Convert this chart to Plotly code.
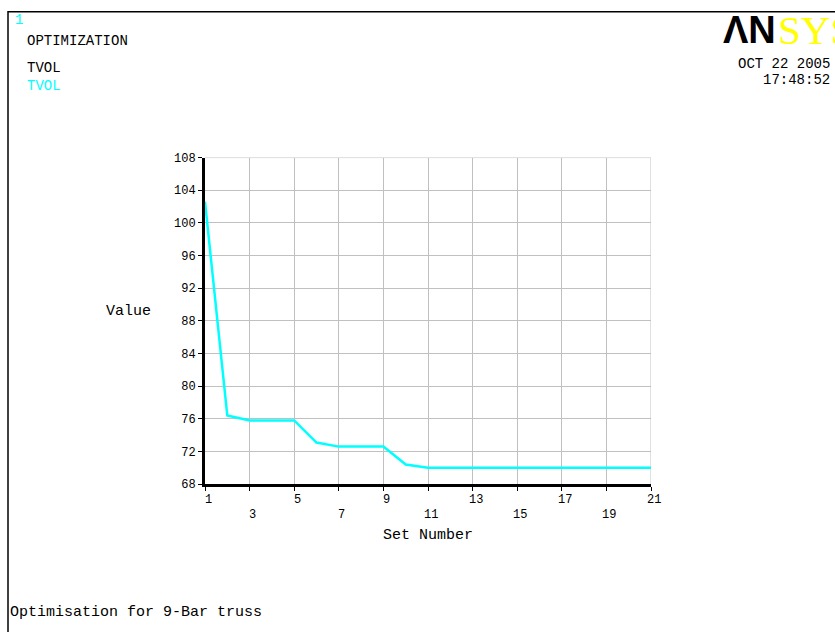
import plotly.graph_objects as go

# Optimisation history of total volume (TVOL) per design set
set_number = list(range(1, 22))
tvol = [102.6, 76.4, 75.8, 75.8, 75.8, 73.1, 72.6, 72.6, 72.6, 70.4,
        70.0, 70.0, 70.0, 70.0, 70.0, 70.0, 70.0, 70.0, 70.0, 70.0, 70.0]

y_ticks = [68, 72, 76, 80, 84, 88, 92, 96, 100, 104, 108]
x_ticks_row1 = [1, 5, 9, 13, 17, 21]
x_ticks_row2 = [3, 7, 11, 15, 19]

W, H = 835, 632
MONO = "Liberation Mono, Courier New, monospace"

def px(x):
    return x / W

def py(y):
    return 1 - y / H

fig = go.Figure()
fig.add_trace(go.Scatter(
    x=set_number, y=tvol, mode="lines",
    line=dict(color="#00FFFF", width=2.5),
    showlegend=False, hoverinfo="x+y",
))

grid = "#C0C0C0"
fig.update_layout(
    width=W, height=H,
    margin=dict(l=0, r=0, t=0, b=0),
    paper_bgcolor="white", plot_bgcolor="white",
    font=dict(family=MONO, color="black", size=12),
    xaxis=dict(
        domain=[px(205), px(651)], range=[1, 21],
        tickmode="array", tickvals=list(range(1, 22, 2)),
        showticklabels=False, ticks="outside", ticklen=4, tickcolor="black",
        showgrid=True, gridcolor=grid, gridwidth=1,
        showline=True, linecolor="black", linewidth=3,
        zeroline=False, fixedrange=True,
    ),
    yaxis=dict(
        domain=[py(489), py(155)], range=[68, 108],
        tickmode="array", tickvals=y_ticks,
        ticks="outside", ticklen=4, tickcolor="black",
        tickfont=dict(family=MONO, size=12),
        showgrid=True, gridcolor=grid, gridwidth=1,
        showline=True, linecolor="black", linewidth=3,
        zeroline=False, fixedrange=True,
    ),
)

# top and right borders of the graph grid
fig.add_shape(type="line", xref="x", yref="y", x0=1, x1=21, y0=108, y1=108,
              line=dict(color=grid, width=1), layer="below")
fig.add_shape(type="line", xref="x", yref="y", x0=21, x1=21, y0=68, y1=108,
              line=dict(color=grid, width=1), layer="below")

# window frame
fig.add_shape(type="rect", xref="paper", yref="paper",
              x0=px(8), x1=1.05, y0=-0.05, y1=py(6),
              line=dict(color="black", width=1.5))

ann = []
for v in x_ticks_row1:
    ann.append(dict(x=v, y=py(505), xref="x", yref="paper", text=str(v),
                    showarrow=False, xshift=3, yanchor="middle",
                    font=dict(size=12)))
for v in x_ticks_row2:
    ann.append(dict(x=v, y=py(521), xref="x", yref="paper", text=str(v),
                    showarrow=False, xshift=3, yanchor="middle",
                    font=dict(size=12)))

def label(x, y, text, size=14, color="black", xanchor="left", family=MONO):
    ann.append(dict(x=px(x), y=py(y), xref="paper", yref="paper", text=text,
                    showarrow=False, xanchor=xanchor, yanchor="middle",
                    font=dict(family=family, size=size, color=color)))

label(13, 14, "1", color="#00FFFF")
label(25, 36, "OPTIMIZATION")
label(25, 63, "TVOL")
label(25, 82, "TVOL", color="#00FFFF")
label(832, 59, "OCT 22 2005", xanchor="right")
label(832, 76, "17:48:52", xanchor="right")
label(104, 312, "Value", size=15)
label(428, 541, "Set Number", size=15, xanchor="center")
label(8, 620, "Optimisation for 9-Bar truss", size=15)

# logo
label(721, 25, "<b>ΛN</b>", size=38, family="Liberation Sans, Arial, sans-serif")
label(776, 25, "SYS", size=41, color="#FFFF00",
      family="Liberation Serif, Times New Roman, serif")

fig.update_layout(annotations=ann)
fig.write_html("out.html")
